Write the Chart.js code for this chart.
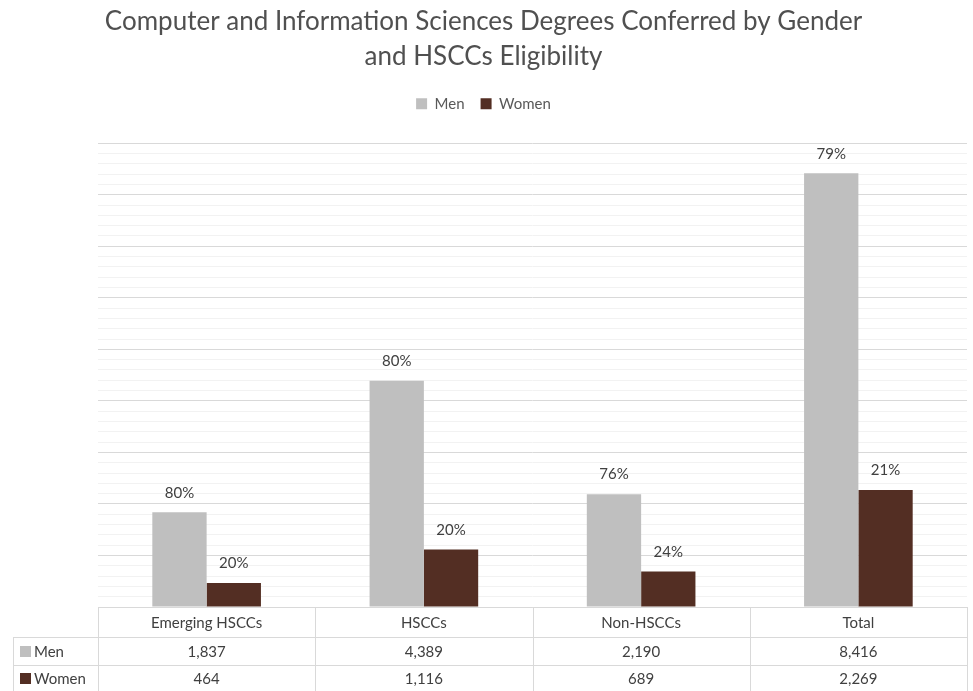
<!DOCTYPE html>
<html>
<head>
<meta charset="utf-8">
<script src="https://cdn.jsdelivr.net/npm/chart.js@4"></script>
<style>
  html, body { margin: 0; padding: 0; background: #fff; }
  #wrap { width: 973px; height: 691px; }
</style>
</head>
<body>
<div id="wrap"><canvas id="chart"></canvas></div>
<script>
// ----------------------- DATA -----------------------
const categories = ["Emerging HSCCs", "HSCCs", "Non-HSCCs", "Total"];
const menValues = [1837, 4389, 2190, 8416];
const womenValues = [464, 1116, 689, 2269];
const menPctLabels = ["80%", "80%", "76%", "79%"];
const womenPctLabels = ["20%", "20%", "24%", "21%"];

const menColor = "#bfbfbf";
const womenColor = "#532e23";
const fontFamily = "Lato, 'Open Sans', sans-serif";

// ----------------------- PLUGINS -----------------------
// extra gap under the legend
const legendGap = {
  id: "legendGap",
  beforeInit(chart) {
    const origFit = chart.legend.fit;
    chart.legend.fit = function () {
      origFit.bind(chart.legend)();
      this.height += 22;
    };
  },
};

// percentage labels above each bar
const barLabels = {
  id: "barLabels",
  afterDatasetsDraw(chart) {
    const { ctx } = chart;
    ctx.save();
    ctx.font = "15px " + fontFamily;
    ctx.fillStyle = "#404040";
    ctx.textAlign = "center";
    ctx.textBaseline = "bottom";
    chart.data.datasets.forEach((ds, i) => {
      chart.getDatasetMeta(i).data.forEach((bar, j) => {
        ctx.fillText(ds.pctLabels[j], bar.x, bar.y - 12);
      });
    });
    ctx.restore();
  },
};

// data table under the chart
const dataTable = {
  id: "dataTable",
  afterDraw(chart) {
    const { ctx, chartArea: { left, right, bottom } } = chart;
    const x = chart.scales.x;
    const rowH = [30, 28, 26];
    const labelLeft = 13;
    const y0 = bottom;
    const y1 = y0 + rowH[0];
    const y2 = y1 + rowH[1];
    const y3 = y2 + rowH[2];
    const n = categories.length;
    const colW = (right - left) / n;

    ctx.save();
    ctx.strokeStyle = "#d9d9d9";
    ctx.lineWidth = 1;
    ctx.beginPath();
    // horizontal lines
    ctx.moveTo(left, y0 + 0.5); ctx.lineTo(right, y0 + 0.5);
    ctx.moveTo(labelLeft, y1 + 0.5); ctx.lineTo(right, y1 + 0.5);
    ctx.moveTo(labelLeft, y2 + 0.5); ctx.lineTo(right, y2 + 0.5);
    // vertical lines
    for (let i = 0; i <= n; i++) {
      const xx = Math.round(left + i * colW) + 0.5;
      ctx.moveTo(xx, y0); ctx.lineTo(xx, y3);
    }
    ctx.moveTo(labelLeft + 0.5, y1); ctx.lineTo(labelLeft + 0.5, y3);
    ctx.stroke();

    ctx.font = "15px " + fontFamily;
    ctx.fillStyle = "#404040";
    ctx.textAlign = "center";
    ctx.textBaseline = "middle";
    categories.forEach((c, i) => {
      const cx = x.getPixelForValue(i);
      ctx.fillText(c, cx, (y0 + y1) / 2 + 1);
      ctx.fillText(menValues[i].toLocaleString("en-US"), cx, (y1 + y2) / 2 + 1);
      ctx.fillText(womenValues[i].toLocaleString("en-US"), cx, (y2 + y3) / 2 + 1);
    });

    // row headers with colour keys
    ctx.textAlign = "left";
    const rows = [
      { label: "Men", color: menColor, y: (y1 + y2) / 2 },
      { label: "Women", color: womenColor, y: (y2 + y3) / 2 },
    ];
    rows.forEach((r) => {
      ctx.fillStyle = r.color;
      ctx.fillRect(20, Math.round(r.y - 5), 11, 11);
      ctx.fillStyle = "#404040";
      ctx.fillText(r.label, 34, r.y + 1);
    });
    ctx.restore();
  },
};

// ----------------------- CHART -----------------------
new Chart(document.getElementById("chart"), {
  type: "bar",
  data: {
    labels: categories,
    datasets: [
      {
        label: "Men",
        data: menValues,
        backgroundColor: menColor,
        pctLabels: menPctLabels,
      },
      {
        label: "Women",
        data: womenValues,
        backgroundColor: womenColor,
        pctLabels: womenPctLabels,
      },
    ],
  },
  options: {
    responsive: true,
    maintainAspectRatio: false,
    animation: false,
    layout: { padding: { left: 0, right: 6, top: 4, bottom: 84 } },
    datasets: { bar: { categoryPercentage: 0.5, barPercentage: 1.0 } },
    plugins: {
      title: {
        display: true,
        text: [
          "Computer and Information Sciences Degrees Conferred by Gender",
          "and HSCCs Eligibility",
        ],
        color: "#505050",
        font: { family: fontFamily, size: 26, weight: "normal", lineHeight: 1.35 },
        padding: { top: 0, bottom: 6 },
      },
      legend: {
        display: true,
        labels: {
          color: "#595959",
          font: { family: fontFamily, size: 15 },
          boxWidth: 11,
          boxHeight: 11,
          padding: 16,
        },
      },
      tooltip: { enabled: false },
    },
    scales: {
      x: { display: false },
      y: {
        min: 0,
        max: 9000,
        afterFit: (scale) => { scale.width = 98; },
        ticks: { display: false, stepSize: 200 },
        border: { display: false },
        grid: {
          drawTicks: false,
          color: (c) => (c.tick.value % 1000 === 0 ? "#d9d9d9" : "#f2f2f2"),
        },
      },
    },
  },
  plugins: [legendGap, barLabels, dataTable],
});
</script>
</body>
</html>
